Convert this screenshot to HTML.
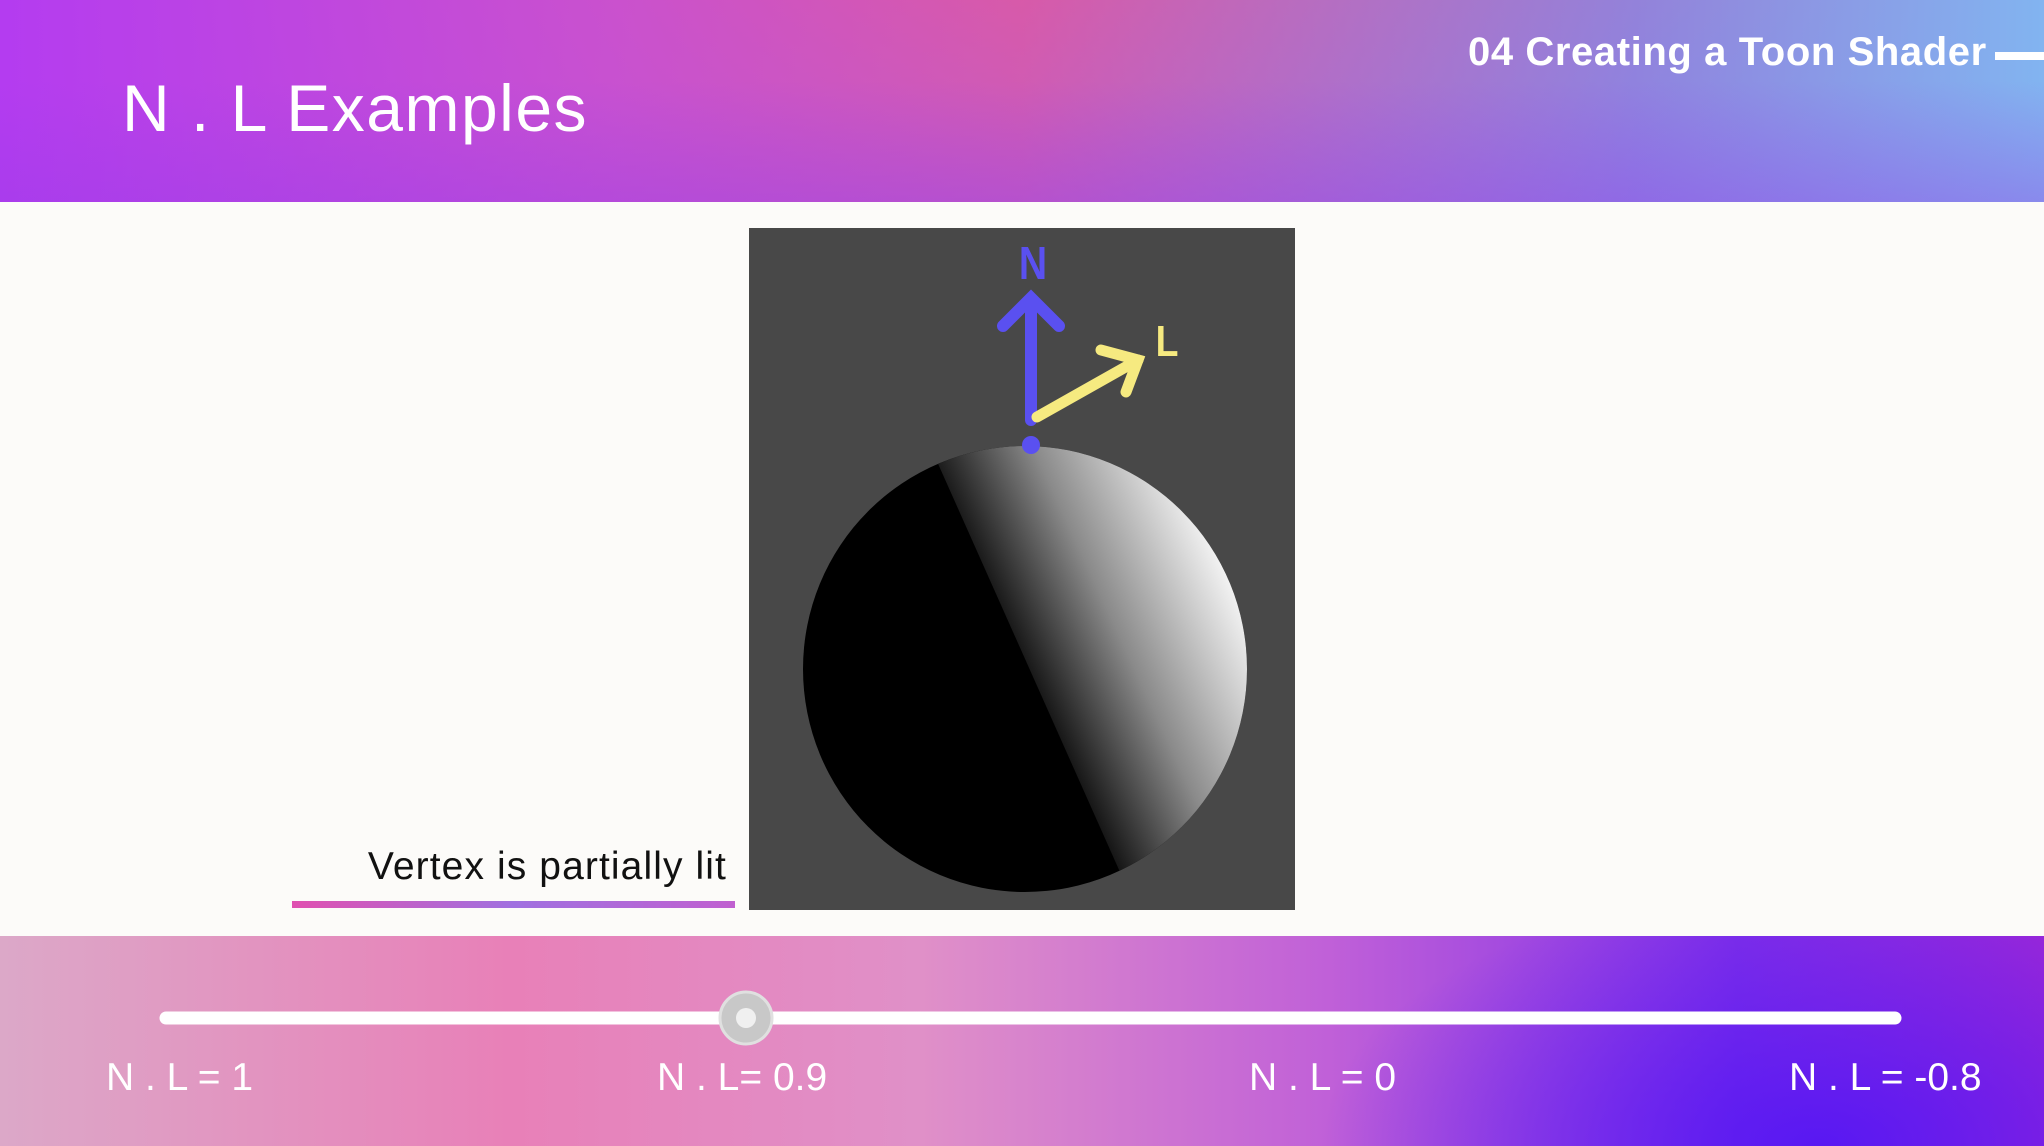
<!DOCTYPE html>
<html><head><meta charset="utf-8"><style>
html,body{margin:0;padding:0}
body{width:2044px;height:1146px;position:relative;overflow:hidden;background:#fcfbf9;font-family:"Liberation Sans",sans-serif}
#header{position:absolute;left:0;top:0;width:2044px;height:202px;
background:linear-gradient(180deg,rgba(160,60,230,0) 40%,rgba(150,60,230,0.35) 100%),linear-gradient(90deg,rgba(180,60,240,1) 0%,rgba(200,80,210,0.9) 30%,rgba(215,90,170,0.6) 50%,rgba(130,140,230,0.8) 80%,rgba(130,180,240,1) 100%),linear-gradient(180deg,#d85aa8,#b060e0)}
#title{position:absolute;left:122px;top:70px;font-size:66px;color:#fff;letter-spacing:1.5px}
#section{position:absolute;left:1468px;top:30px;font-size:40px;color:#fff;font-weight:bold;letter-spacing:0.6px}
#section-bar{position:absolute;left:1995px;top:52px;width:49px;height:8px;background:#fff}
#footer{position:absolute;left:0;top:936px;width:2044px;height:210px;
background:radial-gradient(ellipse 500px 260px at 1820px 210px,rgba(80,20,245,0.85),rgba(80,20,245,0) 100%),linear-gradient(90deg,#dca8c8 0%,#e880b8 25%,#e090c8 45%,#c060d8 65%,#8030e8 85%,#9a28d8 100%)}
.lbl{position:absolute;top:1056px;font-size:39px;color:#fff;white-space:nowrap}
#caption{position:absolute;right:1317px;top:845px;font-size:39px;color:#111;white-space:nowrap;letter-spacing:1.1px}
#underline{position:absolute;left:292px;top:901px;width:443px;height:7px;background:linear-gradient(90deg,#e050b0,#a070e0,#c060d0)}
</style></head><body>
<div id="header"></div>
<div id="title">N . L Examples</div>
<div id="section">04 Creating a Toon Shader</div>
<div id="section-bar"></div>

<svg style="position:absolute;left:0;top:0" width="2044" height="1146">
<defs>
<clipPath id="sc"><ellipse cx="1025" cy="669" rx="222" ry="223"/></clipPath>
<linearGradient id="lg" gradientUnits="userSpaceOnUse" x1="1025" y1="669" x2="1227" y2="576">
<stop offset="0" stop-color="#141414"/><stop offset="0.45" stop-color="#8a8a8a"/><stop offset="1" stop-color="#f2f2f2"/></linearGradient>
</defs>
<rect x="749" y="228" width="546" height="682" fill="#484848"/>
<g clip-path="url(#sc)">
<rect x="790" y="440" width="470" height="460" fill="#000"/>
<polygon points="923,430 1128,890 1300,890 1300,430" fill="url(#lg)"/>
</g>
<g stroke="#5a50f0" stroke-width="12" stroke-linecap="round" fill="none">
<line x1="1031" y1="420" x2="1031" y2="302"/>
<polyline points="1003,326 1031,298 1059,326"/>
</g>
<circle cx="1031" cy="445" r="9" fill="#5a50f0"/>
<text x="1033" y="279" font-size="46" font-weight="bold" fill="#5a50f0" text-anchor="middle" transform="translate(1033 0) scale(0.85 1) translate(-1033 0)">N</text>
<g stroke="#f6ea80" stroke-width="11" stroke-linecap="round" fill="none">
<line x1="1037" y1="417" x2="1138" y2="360"/>
<polyline points="1101,350 1138,360 1126,392"/>
</g>
<text x="1167" y="356" font-size="44" font-weight="bold" fill="#f6ea80" text-anchor="middle" transform="translate(1167 0) scale(0.85 1) translate(-1167 0)">L</text>
</svg>

<div id="caption">Vertex is partially lit</div>
<div id="underline"></div>

<div id="footer"></div>
<svg id="slider" style="position:absolute;left:0;top:936px" width="2044" height="210"></svg>

<script>
const stops = ["N . L = 1", "N . L= 0.9", "N . L = 0", "N . L = -0.8"];
const stopLeft = [106, 657, 1249, 1789];
const knobValue = [0.9];
const stopValues = [1, 0.9, 0, -0.8];
const svg = document.getElementById('slider');
const NS = 'http://www.w3.org/2000/svg';
const x0 = 166, x1 = 1895;
function xOf(v){
  const xs=[166,746,1320,1895];
  for(let i=0;i<stopValues.length-1;i++){
    const a=stopValues[i], b=stopValues[i+1];
    if((v<=a&&v>=b)){return xs[i]+(a-v)/(a-b)*(xs[i+1]-xs[i]);}
  }
  return v>stopValues[0]?xs[0]:xs[xs.length-1];
}
const track=document.createElementNS(NS,'line');
track.setAttribute('x1',x0);track.setAttribute('x2',x1);track.setAttribute('y1',82);track.setAttribute('y2',82);
track.setAttribute('stroke','#fff');track.setAttribute('stroke-width',13);track.setAttribute('stroke-linecap','round');


svg.appendChild(track);
const kx=xOf(knobValue[0]);
const k=document.createElementNS(NS,'circle');
k.setAttribute('cx',kx);k.setAttribute('cy',82);k.setAttribute('r',26);
k.setAttribute('fill','#c8c8c8');k.setAttribute('stroke','#e0e0e0');k.setAttribute('stroke-width',3);


svg.appendChild(k);
const k2=document.createElementNS(NS,'circle');
k2.setAttribute('cx',kx);k2.setAttribute('cy',82);k2.setAttribute('r',10);
k2.setAttribute('fill','#f0f0f0');


svg.appendChild(k2);
stops.forEach((t,i)=>{
  const d=document.createElement('div');
  d.className='lbl';d.style.left=stopLeft[i]+'px';d.textContent=t;
  
  
  document.body.appendChild(d);
});
</script>
</body></html>
